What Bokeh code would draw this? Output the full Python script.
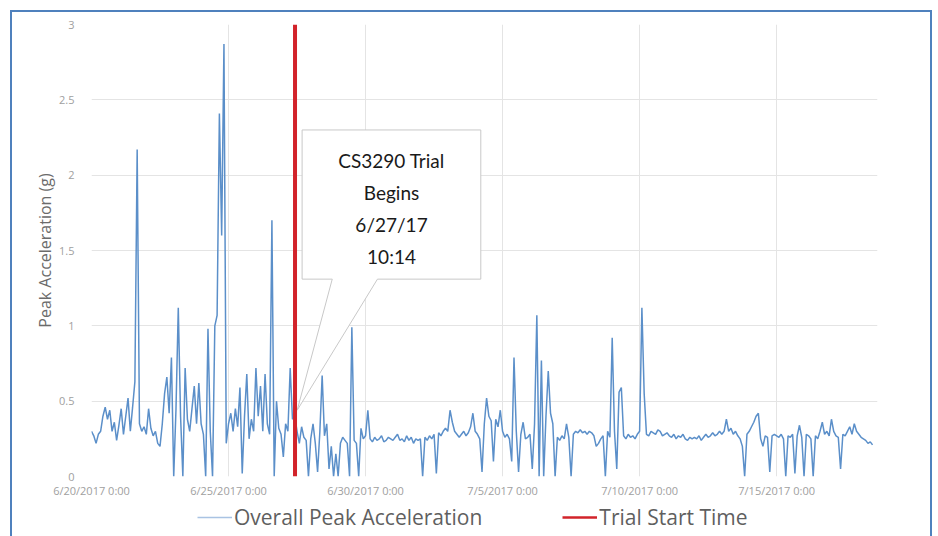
import numpy as np
from bokeh.plotting import figure
from bokeh.layouts import column
from bokeh.models import Range1d, FixedTicker, Legend, LegendItem
from bokeh.embed import file_html
from bokeh.resources import INLINE
from bokeh.core.properties import value

# ---------------- data ----------------
series_start = "2017-06-20T00:00"
step_hours = 2  # one reading every two hours

accel_jun20_jun23 = [
    0.30, 0.27, 0.22, 0.28, 0.30, 0.40, 0.46, 0.38, 0.44, 0.30, 0.36, 0.24,
    0.34, 0.45, 0.28, 0.40, 0.52, 0.30, 0.46, 0.63, 2.17, 0.35, 0.30, 0.33,
    0.28, 0.45, 0.32, 0.27, 0.30, 0.22, 0.20, 0.35, 0.55, 0.66, 0.42, 0.79,
    0.00, 0.45, 1.12, 0.40, 0.00, 0.72, 0.38, 0.30, 0.45, 0.60, 0.35, 0.62,
]
accel_jun24_jun27 = [
    0.35, 0.28, 0.00, 0.98, 0.30, 0.00, 1.00, 1.07, 2.41, 1.60, 2.87, 0.22,
    0.35, 0.42, 0.30, 0.45, 0.33, 0.59, 0.02, 0.40, 0.68, 0.25, 0.38, 0.30,
    0.72, 0.40, 0.60, 0.30, 0.68, 0.35, 0.28, 1.70, 0.00, 0.50, 0.32, 0.28,
    0.13, 0.35, 0.30, 0.72, 0.38, 0.40, 0.30, 0.22, 0.33, 0.26, 0.24, 0.00,
]
accel_jun28_jul01 = [
    0.25, 0.35, 0.22, 0.03, 0.30, 0.67, 0.27, 0.35, 0.05, 0.20, 0.00, 0.15,
    0.00, 0.22, 0.26, 0.24, 0.22, 0.00, 0.99, 0.24, 0.22, 0.00, 0.32, 0.25,
    0.27, 0.44, 0.25, 0.23, 0.26, 0.24, 0.25, 0.27, 0.23, 0.24, 0.26, 0.25,
    0.24, 0.26, 0.28, 0.24, 0.25, 0.23, 0.27, 0.24, 0.26, 0.22, 0.25, 0.24,
]
accel_jul02_jul05 = [
    0.25, 0.00, 0.26, 0.24, 0.27, 0.25, 0.28, 0.02, 0.29, 0.27, 0.30, 0.32,
    0.30, 0.44, 0.36, 0.30, 0.28, 0.26, 0.28, 0.30, 0.27, 0.29, 0.33, 0.42,
    0.30, 0.28, 0.25, 0.03, 0.35, 0.52, 0.40, 0.37, 0.10, 0.38, 0.33, 0.44,
    0.30, 0.26, 0.28, 0.25, 0.10, 0.79, 0.30, 0.03, 0.28, 0.36, 0.25, 0.26,
]
accel_jul06_jul09 = [
    0.28, 0.05, 0.35, 1.07, 0.00, 0.77, 0.00, 0.40, 0.70, 0.42, 0.35, 0.00,
    0.26, 0.24, 0.27, 0.25, 0.35, 0.26, 0.00, 0.28, 0.30, 0.29, 0.31, 0.29,
    0.30, 0.28, 0.30, 0.29, 0.27, 0.20, 0.22, 0.25, 0.27, 0.00, 0.30, 0.26,
    0.92, 0.30, 0.05, 0.56, 0.59, 0.27, 0.25, 0.28, 0.26, 0.27, 0.25, 0.28,
]
accel_jul10_jul13 = [
    0.30, 1.12, 0.55, 0.28, 0.27, 0.30, 0.29, 0.28, 0.31, 0.30, 0.27, 0.28,
    0.29, 0.27, 0.26, 0.28, 0.25, 0.27, 0.26, 0.28, 0.25, 0.24, 0.26, 0.25,
    0.26, 0.25, 0.27, 0.24, 0.26, 0.28, 0.26, 0.27, 0.29, 0.27, 0.28, 0.30,
    0.28, 0.30, 0.38, 0.30, 0.32, 0.28, 0.30, 0.27, 0.25, 0.20, 0.00, 0.28,
]
accel_jul14_jul18 = [
    0.30, 0.33, 0.36, 0.40, 0.42, 0.25, 0.20, 0.27, 0.26, 0.03, 0.27, 0.28,
    0.27, 0.26, 0.28, 0.25, 0.00, 0.27, 0.26, 0.28, 0.02, 0.27, 0.34, 0.26,
    0.00, 0.28, 0.27, 0.25, 0.00, 0.27, 0.25, 0.30, 0.36, 0.28, 0.30, 0.27,
    0.38, 0.30, 0.27, 0.26, 0.05, 0.28, 0.27, 0.30, 0.33, 0.28, 0.35, 0.30,
    0.28, 0.26, 0.25, 0.24, 0.22, 0.23, 0.21,
]

trial_start = "2017-06-27T10:14"
x_range_end = "2017-07-18T16:20"

x_tick_dates = ["2017-06-20", "2017-06-25", "2017-06-30",
                "2017-07-05", "2017-07-10", "2017-07-15"]
x_tick_labels = ["6/20/2017 0:00", "6/25/2017 0:00", "6/30/2017 0:00",
                 "7/5/2017 0:00", "7/10/2017 0:00", "7/15/2017 0:00"]
y_ticks = [0, 0.5, 1, 1.5, 2, 2.5, 3]
y_tick_labels = ["0", "0.5", "1", "1.5", "2", "2.5", "3"]
trial_line_y = [0, 3]
callout_lines = ["CS3290 Trial", "Begins", "6/27/17", "10:14"]
series_names = ["Overall Peak Acceleration", "Trial Start Time"]

# ---------------- helpers ----------------
def ms(s):
    return float(np.datetime64(s, "ms").astype(np.int64))

HOUR = 3600000.0
accel = (accel_jun20_jun23 + accel_jun24_jun27 + accel_jun28_jul01 +
         accel_jul02_jul05 + accel_jul06_jul09 + accel_jul10_jul13 +
         accel_jul14_jul18)
t0 = ms(series_start)
times = [t0 + i * step_hours * HOUR for i in range(len(accel))]
t_trial = ms(trial_start)
x_ticks = [ms(d) for d in x_tick_dates]

BLUE = "#5b8fc9"
RED = "#d2232a"
FRAME = "2px solid #4f81bd"

# ---------------- main figure ----------------
p = figure(width=922, height=488, output_backend="svg", toolbar_location=None,
           x_range=Range1d(t0, ms(x_range_end)), y_range=Range1d(0, 3),
           min_border_left=79, min_border_right=57, min_border_top=12,
           min_border_bottom=24)
p.styles = {"border-top": FRAME, "border-left": FRAME, "border-right": FRAME}
p.outline_line_color = None
p.background_fill_color = "white"
p.border_fill_color = "white"

for g in (p.xgrid, p.ygrid):
    g.grid_line_color = "#e4e4e4"
    g.grid_line_width = 1
p.xgrid.ticker = FixedTicker(ticks=x_ticks)
p.ygrid.ticker = FixedTicker(ticks=y_ticks)

xa = p.xaxis[0]
xa.ticker = FixedTicker(ticks=x_ticks)
xa.major_label_overrides = {t: l for t, l in zip(x_ticks, x_tick_labels)}
ya = p.yaxis[0]
ya.ticker = FixedTicker(ticks=y_ticks)
ya.major_label_overrides = {t: l for t, l in zip(y_ticks, y_tick_labels)}
for ax in (xa, ya):
    ax.axis_line_color = None
    ax.major_tick_line_color = None
    ax.minor_tick_line_color = None
    ax.major_label_text_font = "Open Sans"
    ax.major_label_text_font_size = "11px"
    ax.major_label_text_color = "#a0a0a0"
xa.major_label_standoff = 0
ya.major_label_standoff = 11
ya.axis_label = "Peak Acceleration (g)"
ya.axis_label_text_font = "Open Sans"
ya.axis_label_text_font_style = "normal"
ya.axis_label_text_font_size = "16px"
ya.axis_label_text_color = "#6b6b6b"
ya.axis_label_standoff = 0

# callout box (behind the data)
box_l, box_r = t_trial + 6.2 * HOUR, t_trial + 162.7 * HOUR
tail_a, tail_b, tip_x = t_trial + 32.6 * HOUR, t_trial + 72.2 * HOUR, t_trial + 1.9 * HOUR
box_t, box_b, tip_y = 2.30, 1.31, 0.44
p.patch([box_l, box_r, box_r, tail_b, tip_x, tail_a, box_l],
        [box_t, box_t, box_b, box_b, tip_y, box_b, box_b],
        fill_color="white", line_color="#c8c8c8", line_width=1)
text_x = t_trial + 84.5 * HOUR
text_y = [2.097, 1.885, 1.672, 1.460]
p.text([text_x] * 4, text_y, text=callout_lines, text_align="center",
       text_baseline="middle", text_font=value("Lato"),
       text_font_size="19px", text_color="#1a1a1a")

p.line(times, accel, line_color=BLUE, line_width=1.5)
p.line([t_trial, t_trial], trial_line_y, line_color=RED, line_width=4)

# ---------------- legend strip below the chart ----------------
lp = figure(width=922, height=38, output_backend="svg", toolbar_location=None,
            x_range=Range1d(t0, ms(x_range_end)), y_range=Range1d(10, 11),
            min_border=0, x_axis_type=None, y_axis_type=None)
lp.styles = {"border-left": FRAME, "border-right": FRAME}
lp.outline_line_color = None
lp.grid.visible = False
lp.background_fill_color = "white"
lp.border_fill_color = "white"
# same series, drawn outside this strip's view, only to key the legend
r_data = lp.line(times, accel, line_color="#a9c3e3", line_width=1.5)
r_trial = lp.line([t_trial, t_trial], trial_line_y, line_color=RED, line_width=2.5)

legend = Legend(items=[LegendItem(label=series_names[0], renderers=[r_data]),
                       LegendItem(label=series_names[1], renderers=[r_trial])],
                orientation="horizontal", location=(106, 5))
legend.label_text_font = "Open Sans"
legend.label_text_font_size = "21px"
legend.label_text_color = "#5f5f5f"
legend.border_line_color = None
legend.background_fill_alpha = 0
legend.glyph_width = 35
legend.label_standoff = 2
legend.spacing = 80
legend.padding = 0
legend.margin = 0
lp.add_layout(legend, "center")

layout = column(p, lp, spacing=0,
                styles={"margin-left": "10px", "margin-top": "10px"})

open("out.html", "w").write(file_html(layout, INLINE))
